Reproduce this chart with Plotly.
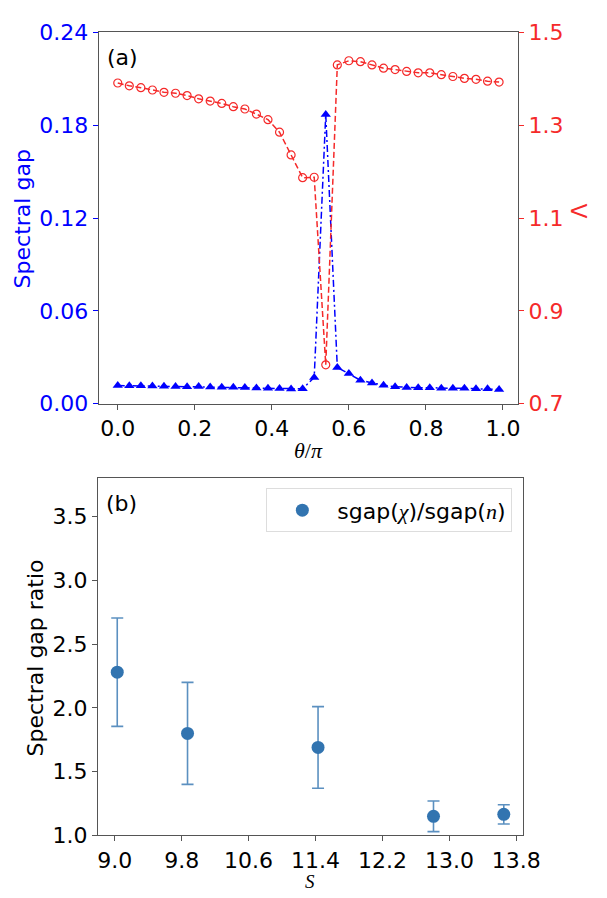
import plotly.graph_objects as go

# ---- panel (a) data ----
theta = [0.00, 0.03, 0.06, 0.09, 0.12, 0.15, 0.18, 0.21, 0.24, 0.27, 0.30, 0.33,
         0.36, 0.39, 0.42, 0.45, 0.48, 0.51, 0.54, 0.57, 0.60, 0.63, 0.66, 0.69,
         0.72, 0.75, 0.78, 0.81, 0.84, 0.87, 0.90, 0.93, 0.96, 0.99]
spectral_gap = [0.0118, 0.0117, 0.0116, 0.0115, 0.0113, 0.0111, 0.0110, 0.0111, 0.0108,
                0.0107, 0.0107, 0.0105, 0.0102, 0.0100, 0.0099, 0.0095, 0.0097, 0.0170,
                0.1870, 0.0235, 0.0195, 0.0152, 0.0135, 0.0120, 0.0110, 0.0106, 0.0104,
                0.0104, 0.0100, 0.0100, 0.0100, 0.0097, 0.0097, 0.0092]
lam = [1.391, 1.385, 1.381, 1.376, 1.371, 1.369, 1.364, 1.357, 1.352, 1.347, 1.340,
       1.335, 1.324, 1.312, 1.285, 1.236, 1.187, 1.188, 0.784, 1.430, 1.439, 1.437,
       1.430, 1.423, 1.420, 1.416, 1.413, 1.413, 1.409, 1.405, 1.401, 1.399, 1.395, 1.393]
gap_ticks = [0.00, 0.06, 0.12, 0.18, 0.24]
lam_ticks = [0.7, 0.9, 1.1, 1.3, 1.5]
theta_ticks = [0.0, 0.2, 0.4, 0.6, 0.8, 1.0]

# ---- panel (b) data ----
S = [9.03, 9.87, 11.43, 12.81, 13.65]
ratio = [2.28, 1.80, 1.69, 1.15, 1.165]
ratio_err = [0.425, 0.40, 0.32, 0.12, 0.075]
S_ticks = [9.0, 9.8, 10.6, 11.4, 12.2, 13.0, 13.8]
ratio_ticks = [1.0, 1.5, 2.0, 2.5, 3.0, 3.5]

BLUE = "#0000ff"
RED = "#f52a2a"
C0 = "#3274b0"
FRAME = "#555555"
FONT = "DejaVu Sans"
FS = 22

fig = go.Figure()

fig.add_trace(go.Scatter(
    x=theta, y=spectral_gap, xaxis="x", yaxis="y", mode="lines+markers",
    line=dict(color=BLUE, width=1.5, dash="7px,3px,2px,3px"),
    marker=dict(symbol="triangle-up", size=9, color=BLUE),
    showlegend=False))
fig.add_trace(go.Scatter(
    x=theta, y=lam, xaxis="x", yaxis="y2", mode="lines+markers",
    line=dict(color=RED, width=1.5, dash="6px,3px"),
    marker=dict(symbol="circle-open", size=8, color=RED, line=dict(width=1.2, color=RED)),
    showlegend=False))

fig.add_trace(go.Scatter(
    x=S, y=ratio, xaxis="x2", yaxis="y3", mode="markers",
    marker=dict(size=13, color=C0),
    error_y=dict(type="data", array=ratio_err, visible=True, color="rgba(50,116,176,0.8)",
                 thickness=1.6, width=6),
    name='sgap(<span style="font-family:Liberation Serif"><i>χ</i></span>)/sgap(<span style="font-family:Liberation Serif"><i>n</i></span>)',
    showlegend=True))

W, H = 607, 898
def px(x):
    return x / W
def py(y):
    return 1 - y / H

axis_common = dict(showline=True, linecolor=FRAME, linewidth=1, ticks="outside", ticklen=5,
                   showgrid=False, zeroline=False, tickfont=dict(family=FONT, size=FS))

def note(text, x, y, angle=0, color="black", family=FONT, size=FS, xa="center"):
    return dict(text=text, x=px(x), y=py(y), xref="paper", yref="paper",
                xanchor=xa, yanchor="middle", textangle=angle, showarrow=False,
                font=dict(family=family, size=size, color=color))

fig.update_layout(
    width=W, height=H, margin=dict(l=0, r=0, t=0, b=0),
    paper_bgcolor="white", plot_bgcolor="white",
    font=dict(family=FONT, size=FS, color="black"),
    xaxis=dict(domain=[px(101.7), px(534)], range=[-0.0495, 1.0395], anchor="y",
               tickvals=theta_ticks, ticktext=[f"{v:.1f}" for v in theta_ticks],
               mirror=True, tickcolor=FRAME, **axis_common),
    yaxis=dict(domain=[py(403), py(21)], range=[0, 0.24], anchor="x",
               tickvals=gap_ticks, ticktext=[f"{v:.2f}" for v in gap_ticks],
               tickcolor=BLUE, **{**axis_common, "tickfont": dict(family=FONT, size=FS, color=BLUE)}),
    yaxis2=dict(overlaying="y", side="right", range=[0.7, 1.5], anchor="x",
                tickvals=lam_ticks, ticktext=[f"{v:.1f}" for v in lam_ticks],
                tickcolor=RED, **{**axis_common, "tickfont": dict(family=FONT, size=FS, color=RED)}),
    xaxis2=dict(domain=[px(101), px(539)], range=[8.80, 13.88], anchor="y3",
                tickvals=S_ticks, ticktext=[f"{v:.1f}" for v in S_ticks],
                mirror=True, tickcolor=FRAME, **axis_common),
    yaxis3=dict(domain=[py(847), py(479)], range=[1.0, 3.805], anchor="x2",
                tickvals=ratio_ticks, ticktext=[f"{v:.1f}" for v in ratio_ticks],
                mirror=True, tickcolor=FRAME, **axis_common),
    legend=dict(x=px(528), y=py(490), xanchor="right", yanchor="top",
                bgcolor="white", bordercolor="#dddddd", borderwidth=1,
                font=dict(family=FONT, size=FS), itemwidth=60),
    annotations=[
        note("(a)", 108, 47, xa="left"),
        note("(b)", 107, 506, xa="left"),
        note("Spectral gap", 23, 213, angle=-90, color=BLUE),
        note("Λ", 597, 205, angle=-90, color=RED),
        note("<i>θ</i>/<i>π</i>", 318, 451, family="Liberation Serif"),
        note("Spectral gap ratio", 37, 664, angle=-90),
        note("<i>S</i>", 319, 894, family="Liberation Serif", size=19),
    ],
)

fig.write_html("out.html")
